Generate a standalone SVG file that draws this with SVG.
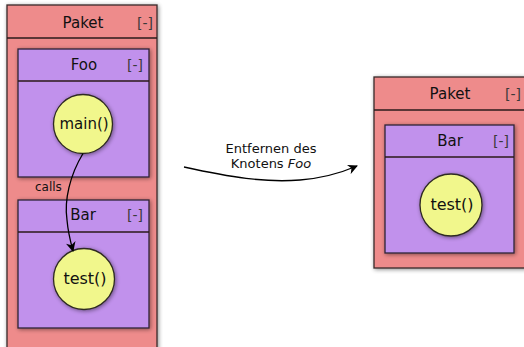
<svg xmlns="http://www.w3.org/2000/svg" width="524" height="347" viewBox="0 0 524 347">
<defs>
<filter id="sh" x="-20%" y="-20%" width="140%" height="140%">
<feGaussianBlur in="SourceAlpha" stdDeviation="2"/>
<feOffset dx="1" dy="1" result="b"/>
<feComponentTransfer><feFuncA type="linear" slope="0.45"/></feComponentTransfer>
<feMerge><feMergeNode/><feMergeNode in="SourceGraphic"/></feMerge>
</filter>
<marker id="ah" viewBox="0 0 10 10" refX="9" refY="5" markerWidth="10" markerHeight="10" orient="auto" markerUnits="userSpaceOnUse">
<path d="M0,0 L10,5 L0,10 L3,5 Z" fill="#000"/>
</marker>
</defs>
<style>
.pk{fill:#ee8b8b;stroke:#3a2a2a;stroke-width:1.3}
.cl{fill:#c191ec;stroke:#2e2238;stroke-width:1.3}
.fn{fill:#f1f78c;stroke:#2e2a22;stroke-width:1.3}
.ln{stroke:#2a1a1a;stroke-width:1.3}
text{font-family:"DejaVu Sans",Verdana,sans-serif;fill:#111}
.t{font-size:15px;text-anchor:middle}
.b{font-size:14px;text-anchor:middle;fill:#3a3a3a}
.s{font-size:12px}
.e{stroke:#000;stroke-width:1.3;fill:none}
.l{font-size:13px;text-anchor:middle}
</style>
<rect width="524" height="347" fill="#fff"/>
<g id="paket-left">
<rect class="pk" x="7" y="5" width="150" height="350" filter="url(#sh)"/>
<line class="ln" x1="7" y1="38" x2="157" y2="38"/>
<text class="t" x="83" y="28">Paket</text>
<text class="b" x="145" y="28">[-]</text>
</g>
<g id="foo">
<rect class="cl" x="18" y="49" width="131" height="128" filter="url(#sh)"/>
<line class="ln" x1="18" y1="81" x2="149" y2="81"/>
<text class="t" x="84" y="70">Foo</text>
<text class="b" x="135" y="70">[-]</text>
</g>
<g id="main">
<circle class="fn" cx="83" cy="124" r="29.5" filter="url(#sh)"/>
<text class="t" x="84" y="129">main()</text>
</g>
<g id="bar-left">
<rect class="cl" x="18" y="200" width="131" height="128" filter="url(#sh)"/>
<line class="ln" x1="18" y1="232" x2="149" y2="232"/>
<text class="t" x="83" y="220">Bar</text>
<text class="b" x="135" y="220">[-]</text>
</g>
<g id="test-left">
<circle class="fn" cx="84" cy="279" r="30.5" filter="url(#sh)"/>
<text class="t" x="85" y="284" style="font-size:16px">test()</text>
</g>
<g id="paket-right">
<rect class="pk" x="374" y="77" width="152" height="191" filter="url(#sh)"/>
<line class="ln" x1="374" y1="110" x2="526" y2="110"/>
<text class="t" x="450" y="99">Paket</text>
<text class="b" x="513" y="99">[-]</text>
</g>
<g id="bar-right">
<rect class="cl" x="385" y="125" width="129" height="128" filter="url(#sh)"/>
<line class="ln" x1="385" y1="157" x2="514" y2="157"/>
<text class="t" x="450" y="146">Bar</text>
<text class="b" x="501" y="146">[-]</text>
</g>
<g id="test-right">
<circle class="fn" cx="451" cy="205" r="31" filter="url(#sh)"/>
<text class="t" x="452" y="210" style="font-size:16px">test()</text>
</g>
<g id="connectors">
<path class="e" d="M83,153.5 C70,175 64,200 67,220 C68,232 70,240 73,251" marker-end="url(#ah)"/>
<text class="s" x="35" y="191">calls</text>
<path class="e" d="M184,167 C230,177 265,183 300,180 C325,178 343,172 357,166" marker-end="url(#ah)"/>
<text class="l" x="271" y="153">Entfernen des</text>
<text class="l" x="271" y="168">Knotens <tspan font-style="italic">Foo</tspan></text>
</g>
</svg>
